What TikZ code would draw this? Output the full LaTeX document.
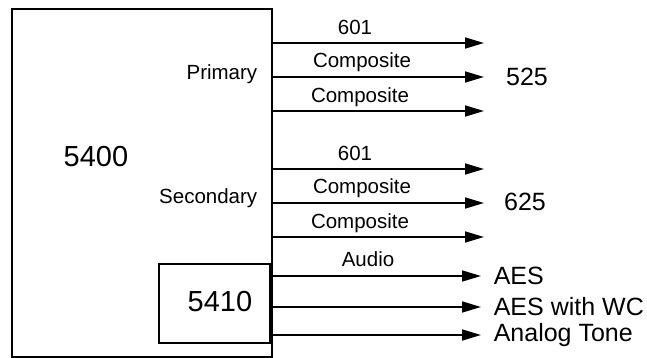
\documentclass[tikz,border=0pt]{standalone}
\usepackage{fontspec}
\setmainfont{Liberation Sans}
\usetikzlibrary{arrows.meta}

\begin{document}
\begin{tikzpicture}[x=1pt,y=-1pt,line width=1.6pt,
  sig/.style={-{Triangle[length=19pt,width=11pt]}},
  lbl/.style={font=\fontsize{20.5}{24}\selectfont,inner sep=0pt},
  outlbl/.style={font=\fontsize{25}{29}\selectfont,inner sep=0pt},
  boxlbl/.style={font=\fontsize{29}{33}\selectfont,inner sep=0pt}]
\useasboundingbox (0,0) rectangle (647,358);
\node[draw,minimum width=260pt,minimum height=348pt,inner sep=0pt] (main) at (142,183) {};
\node[draw,minimum width=111pt,minimum height=79pt,inner sep=0pt] (sub) at (214.5,303.5) {};
\node[boxlbl] (n5400) at (96,157) {5400};
\node[boxlbl] (n5410) at (220,302) {5410};
\node[lbl,anchor=east] (prim) at (258,74) {Primary};
\node[lbl,anchor=east] (sec) at (258,198) {Secondary};
% video outputs
\foreach \y/\n in {43/a,77/b,111/c,169/d,203/e,237/f}{
  \coordinate (t\n) at (484,\y);
  \draw[sig] (main.east |- t\n) -- (t\n);
}
\node[lbl] (la) at (355,27) {601};
\node[lbl] (lb) at (362,62) {Composite};
\node[lbl] (lc) at (360,97) {Composite};
\node[lbl] (ld) at (355,153) {601};
\node[lbl] (le) at (362,188) {Composite};
\node[lbl] (lf) at (360,223) {Composite};
\node[outlbl] (o525) at (527,77) {525};
\node[outlbl] (o625) at (525,202) {625};
% audio outputs
\foreach \y/\n in {276/g,307/h,335/i}{
  \coordinate (t\n) at (481,\y);
  \draw[sig] (sub.east |- t\n) -- (t\n);
}
\node[lbl] (lg) at (368,259) {Audio};
\node[outlbl,anchor=west] (aes) at (493,276) {AES};
\node[outlbl,anchor=west] (aeswc) at (493,307) {AES with WC};
\node[outlbl,anchor=west] (tone) at (493,335) {Analog Tone};
\end{tikzpicture}
\end{document}
